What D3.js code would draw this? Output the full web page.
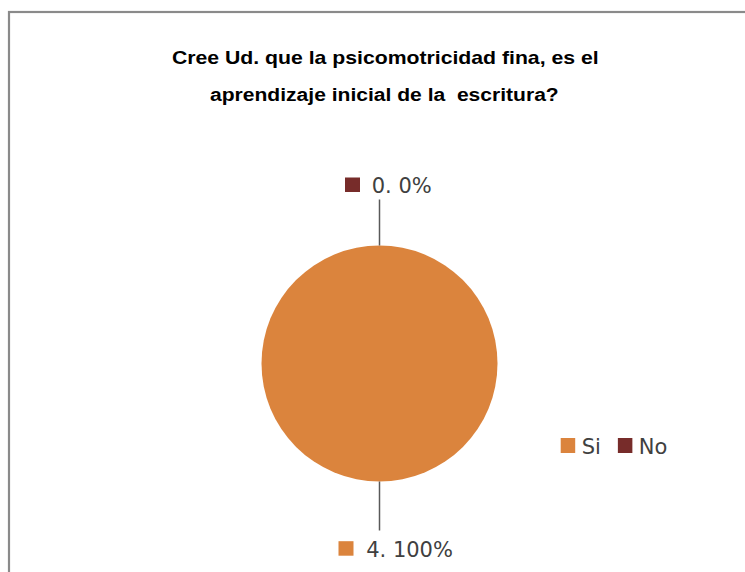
<!DOCTYPE html>
<html>
<head>
<meta charset="utf-8">
<script src="https://cdn.jsdelivr.net/npm/d3@7"></script>
<style>
  html, body { margin: 0; padding: 0; background: #fff; }
  svg { display: block; }
</style>
</head>
<body>
<svg id="chart" width="745" height="572"></svg>
<script>
const titleLines = ["Cree Ud. que la psicomotricidad fina, es el", "aprendizaje inicial de la  escritura?"];
const categories = ["Si", "No"];
const values = [4, 0];
const colors = ["#DB843D", "#772C2A"];

const W = 745, H = 572;
const svg = d3.select("#chart");

// outer frame
svg.append("rect")
  .attr("x", 9).attr("y", 12)
  .attr("width", W + 20).attr("height", H + 20)
  .attr("fill", "#fff")
  .attr("stroke", "#8a8a8a").attr("stroke-width", 2.2);

// title
const titleTargets = [{x0: 172, y: 64, w: 427}, {x0: 210, y: 100.5, w: 349}];
titleLines.forEach((t, i) => {
  const txt = svg.append("text")
    .attr("font-family", "'Liberation Sans', Arial, sans-serif")
    .attr("font-weight", "bold")
    .attr("font-size", 18.5)
    .attr("fill", "#000")
    .attr("xml:space", "preserve")
    .text(t);
  const len = txt.node().getComputedTextLength();
  const sx = titleTargets[i].w / len;
  txt.attr("transform", `translate(${titleTargets[i].x0},${titleTargets[i].y}) scale(${sx},1)`);
});

// pie
const cx = 379.5, cy = 363.5, r = 118;
const total = d3.sum(values);
const pie = d3.pie().sort(null).value(d => d)(values);
const arc = d3.arc().innerRadius(0).outerRadius(r);
const g = svg.append("g").attr("transform", `translate(${cx},${cy})`);
g.selectAll("path").data(pie).enter().append("path")
  .attr("d", arc)
  .attr("fill", (d, i) => colors[i]);

// leader lines + labels
const labelFont = "'DejaVu Sans', sans-serif";
const lineLen = [49, 46];
const labelOffset = [{dx: -41, dy: 10.7, tx: 27.7}, {dx: -34.5, dy: -22, tx: 26.7}];
pie.forEach((d, i) => {
  const mid = (d.startAngle + d.endAngle) / 2;
  const sx = Math.sin(mid), sy = -Math.cos(mid);
  const x0 = sx * r, y0 = sy * r;
  const x1 = sx * (r + lineLen[i]), y1 = sy * (r + lineLen[i]);
  g.append("line")
    .attr("x1", x0).attr("y1", y0).attr("x2", x1).attr("y2", y1)
    .attr("stroke", "#595959").attr("stroke-width", 1.5);
  const pct = total ? Math.round(values[i] / total * 100) : 0;
  const lg = g.append("g").attr("transform", `translate(${x1 + labelOffset[i].dx},${y1 + labelOffset[i].dy})`);
  lg.append("rect").attr("x", 0).attr("y", 0).attr("width", 15).attr("height", 14.5)
    .attr("fill", colors[i]);
  lg.append("text")
    .attr("x", labelOffset[i].tx).attr("y", 15.6)
    .attr("font-family", labelFont)
    .attr("font-size", 21)
    .attr("fill", "#404040")
    .attr("xml:space", "preserve")
    .text(`${values[i]}. ${pct}%`);
});

// legend
const legend = svg.append("g").attr("transform", "translate(560.7,438)");
let lx = 0;
categories.forEach((c, i) => {
  legend.append("rect").attr("x", lx).attr("y", 0).attr("width", 14.5).attr("height", 15)
    .attr("fill", colors[i]);
  const t = legend.append("text")
    .attr("x", lx + 21).attr("y", 15.5)
    .attr("font-family", labelFont)
    .attr("font-size", 21)
    .attr("fill", "#404040")
    .text(c);
  lx += 21 + t.node().getComputedTextLength() + 17;
});
</script>
</body>
</html>
